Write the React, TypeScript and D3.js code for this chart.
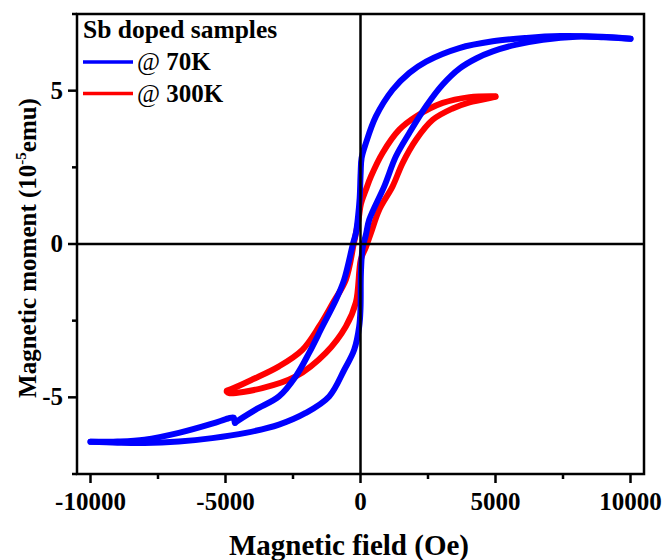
import React from 'react';
import * as d3 from 'd3';

type Pt = [number, number];

// 70 K loop, field sweeping down from +10000 Oe
const blue70Descending: Pt[] = [
  [10000, 6.69], [9300, 6.74], [8600, 6.77], [7400, 6.78], [6140, 6.72], [4900, 6.61],
  [3660, 6.39], [2430, 5.95], [1810, 5.58], [1190, 5.03], [570, 4.16], [200, 3.29],
  [40, 2.8], [5, 2.3], [-30, 1.5], [-90, 0.9], [-170, 0.36], [-280, 0], [-605, -1.16],
  [-913, -1.83], [-1411, -2.69], [-1904, -3.55], [-2400, -4.32], [-3020, -4.97],
  [-3883, -5.4], [-4600, -5.8], [-4650, -5.84], [-4700, -5.66], [-4900, -5.69],
  [-5494, -5.86], [-6730, -6.16], [-8000, -6.38], [-9000, -6.44], [-10000, -6.45],
];
// 70 K loop, field sweeping up from -10000 Oe
const blue70Ascending: Pt[] = [
  [-10000, -6.45], [-9000, -6.48], [-8000, -6.49], [-6730, -6.44], [-5494, -6.33],
  [-4250, -6.16], [-3020, -5.89], [-2030, -5.51], [-1160, -4.97], [-600, -4.1],
  [-234, -3.45], [-48, -2.69], [0, -2.1], [15, -0.95], [75, -0.15], [200, 0.3],
  [323, 0.79], [880, 1.88], [1313, 2.86], [1808, 3.62], [2428, 4.49], [3044, 5.2],
  [3664, 5.72], [4283, 6.05], [4900, 6.28], [5770, 6.5], [6756, 6.66], [8000, 6.76],
  [9000, 6.74], [10000, 6.69],
];
// 300 K loop, field sweeping down from +5000 Oe
const red300Descending: Pt[] = [
  [5000, 4.82], [4035, 4.79], [3044, 4.6], [2056, 4.16], [1437, 3.73], [817, 2.97],
  [386, 2.2], [200, 1.77], [15, 1.3], [-74, 0.79], [-250, 0], [-542, -1.16],
  [-1040, -1.95], [-1533, -2.69], [-2153, -3.45], [-3018, -3.99], [-4009, -4.42],
  [-4700, -4.7], [-4950, -4.78],
];
// 300 K loop, field sweeping up from -5000 Oe
const red300Ascending: Pt[] = [
  [-4950, -4.82], [-4874, -4.86], [-3637, -4.7], [-2398, -4.32], [-1284, -3.55],
  [-542, -2.69], [-170, -1.9], [15, -0.5], [200, -0.1], [386, 0.36], [694, 1.12],
  [1188, 1.88], [1559, 2.64], [2056, 3.4], [2675, 4.05], [3415, 4.42], [4035, 4.62],
  [4900, 4.78], [5000, 4.8],
];

const xTicks = [-10000, -5000, 0, 5000, 10000];
const xMinorTicks = [-7500, -2500, 2500, 7500];
const yTicks = [-5, 0, 5];
const yMinorTicks = [-7.5, -2.5, 2.5, 7.5];
const legendTitle = 'Sb doped samples';
const seriesLabels = ['70K', '300K'];
const seriesColors = ['#0000ff', '#ff0000'];

const FONT = '"Liberation Serif", "Times New Roman", serif';

export default function App() {
  const W = 664, H = 560;
  const left = 77, right = 644, top = 14, bottom = 474;
  const x = d3.scaleLinear().domain([-10500, 10500]).range([left, right]);
  const y = d3.scaleLinear().domain([-7.5, 7.5]).range([bottom, top]);
  const line = d3
    .line<Pt>()
    .x((d) => x(d[0]))
    .y((d) => y(d[1]))
    .curve(d3.curveCatmullRom.alpha(0.5));

  const curveStyle = { fill: 'none', strokeWidth: 6, strokeLinecap: 'round' as const, strokeLinejoin: 'round' as const };

  return (
    <svg width={W} height={H} style={{ position: 'absolute', left: 0, top: 0, background: '#fff' }} fontFamily={FONT}>
      <rect width={W} height={H} fill="#fff" />
      {/* curves */}
      <path d={line(red300Descending) || ''} stroke={seriesColors[1]} {...curveStyle} />
      <path d={line(red300Ascending) || ''} stroke={seriesColors[1]} {...curveStyle} />
      <path d={line(blue70Descending) || ''} stroke={seriesColors[0]} {...curveStyle} />
      <path d={line(blue70Ascending) || ''} stroke={seriesColors[0]} {...curveStyle} />

      {/* zero lines */}
      <line x1={x(0)} x2={x(0)} y1={top} y2={bottom} stroke="#000" strokeWidth={2.5} />
      <line x1={left} x2={right} y1={y(0)} y2={y(0)} stroke="#000" strokeWidth={2.5} />

      {/* frame */}
      <rect x={left} y={top} width={right - left} height={bottom - top} fill="none" stroke="#000" strokeWidth={2.5} />

      {/* x ticks */}
      {xTicks.map((t) => (
        <g key={'xt' + t}>
          <line x1={x(t)} x2={x(t)} y1={bottom} y2={bottom + 9} stroke="#000" strokeWidth={2.5} />
          <text x={x(t)} y={bottom + 36} textAnchor="middle" fontSize={25} fontWeight="bold">
            {t}
          </text>
        </g>
      ))}
      {xMinorTicks.map((t) => (
        <line key={'xm' + t} x1={x(t)} x2={x(t)} y1={bottom} y2={bottom + 5} stroke="#000" strokeWidth={2.5} />
      ))}

      {/* y ticks */}
      {yTicks.map((t) => (
        <g key={'yt' + t}>
          <line x1={left - 9} x2={left} y1={y(t)} y2={y(t)} stroke="#000" strokeWidth={2.5} />
          <text x={left - 14} y={y(t) + 8} textAnchor="end" fontSize={25} fontWeight="bold">
            {t}
          </text>
        </g>
      ))}
      {yMinorTicks.map((t) => (
        <line key={'ym' + t} x1={left - 5} x2={left} y1={y(t)} y2={y(t)} stroke="#000" strokeWidth={2.5} />
      ))}

      {/* axis titles */}
      <text x={349} y={555} textAnchor="middle" fontSize={29} fontWeight="bold">
        Magnetic field (Oe)
      </text>
      <text
        transform={`translate(36, ${(top + bottom) / 2 + 4}) rotate(-90)`}
        textAnchor="middle"
        fontSize={25}
        fontWeight="bold"
      >
        Magnetic moment (10
        <tspan dy={-10} fontSize={15}>-5</tspan>
        <tspan dy={10}>emu)</tspan>
      </text>

      {/* legend */}
      <text x={83} y={38} fontSize={25.5} fontWeight="bold">
        {legendTitle}
      </text>
      {seriesLabels.map((lab, i) => (
        <g key={lab}>
          <line x1={83} x2={133} y1={62 + i * 31.5} y2={62 + i * 31.5} stroke={seriesColors[i]} strokeWidth={3.5} />
          <text x={137} y={70 + i * 31.5} fontSize={25} fontWeight="bold">
            <tspan fontWeight="normal">@</tspan> {lab}
          </text>
        </g>
      ))}
    </svg>
  );
}
